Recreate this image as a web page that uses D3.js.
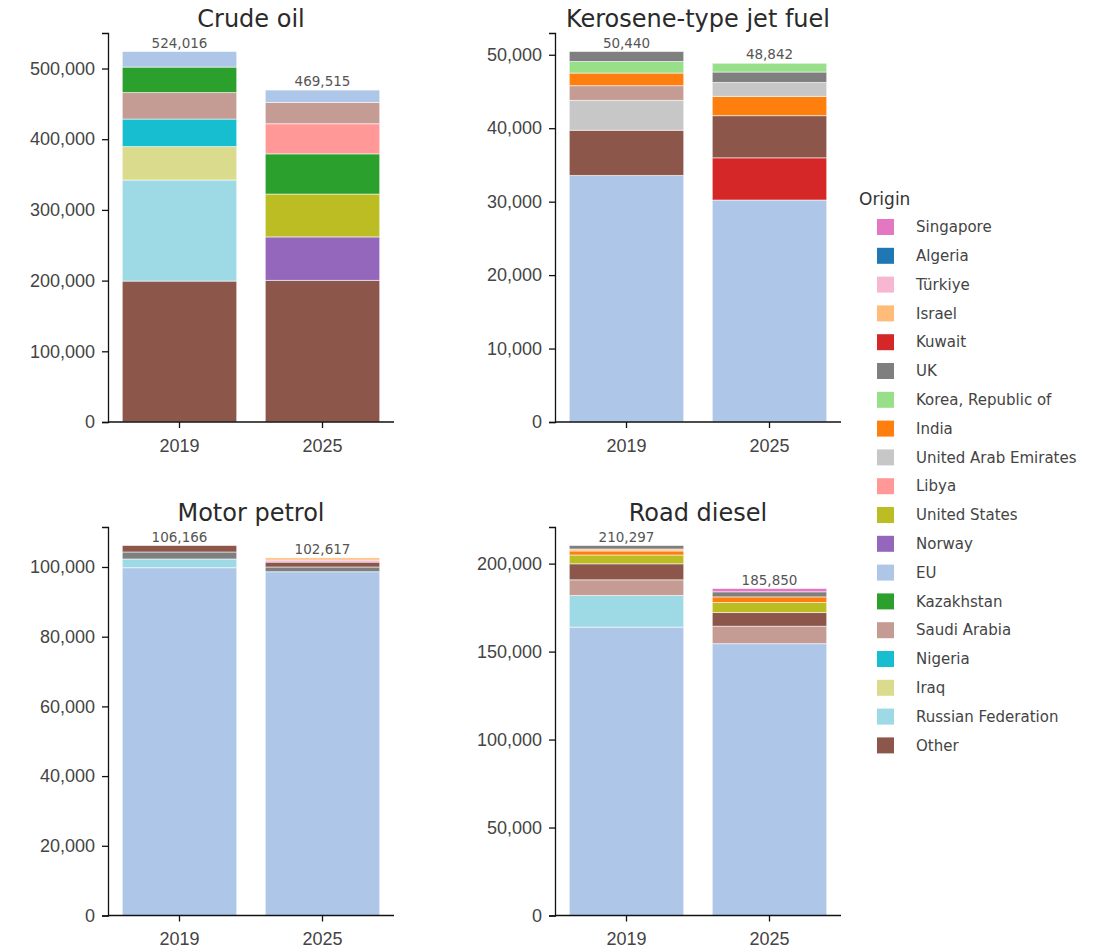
<!DOCTYPE html>
<html>
<head>
<meta charset="utf-8">
<script src="https://cdn.jsdelivr.net/npm/d3@7"></script>
<style>
  html, body { margin: 0; padding: 0; background: #fff; }
  svg { display: block; font-family: "DejaVu Sans", Verdana, sans-serif; }
</style>
</head>
<body>
<svg id="chart" width="1102" height="952"></svg>
<script>
// ---------- DATA ----------
const years = ["2019", "2025"];

// each bar: [origin, value], listed bottom to top
const crude2019 = [["Other",199300],["Russian Federation",143000],["Iraq",47300],["Nigeria",38900],["Saudi Arabia",37500],["Kazakhstan",36000],["EU",22016]];
const crude2025 = [["Other",200300],["Norway",61500],["United States",60600],["Kazakhstan",56900],["Libya",42600],["Saudi Arabia",30100],["EU",17515]];

const jet2019 = [["EU",33570],["Other",6150],["United Arab Emirates",4070],["Saudi Arabia",2000],["India",1720],["Korea, Republic of",1570],["UK",1360]];
const jet2025 = [["EU",30220],["Kuwait",5750],["Other",5740],["India",2620],["United Arab Emirates",1900],["UK",1420],["Korea, Republic of",1192]];

const petrol2019 = [["EU",99800],["Russian Federation",2500],["UK",2000],["Other",1866]];
const petrol2025 = [["EU",98650],["UK",1350],["Other",1400],["Türkiye",600],["Israel",617]];

const diesel2019 = [["EU",163900],["Russian Federation",18000],["Saudi Arabia",8900],["Other",9100],["United States",5000],["India",2300],["Israel",1100],["UK",1997]];
const diesel2025 = [["EU",154500],["Saudi Arabia",9900],["Other",7800],["United States",5700],["India",3200],["UK",2900],["Singapore",1850]];

const panelTitles = ["Crude oil", "Kerosene-type jet fuel", "Motor petrol", "Road diesel"];
const crudeTicks  = [0, 100000, 200000, 300000, 400000, 500000];
const jetTicks    = [0, 10000, 20000, 30000, 40000, 50000];
const petrolTicks = [0, 20000, 40000, 60000, 80000, 100000];
const dieselTicks = [0, 50000, 100000, 150000, 200000];

const legendOrigins = ["Singapore","Algeria","Türkiye","Israel","Kuwait","UK","Korea, Republic of","India","United Arab Emirates","Libya","United States","Norway","EU","Kazakhstan","Saudi Arabia","Nigeria","Iraq","Russian Federation","Other"];
const legendColors  = ["#e377c2","#1f77b4","#f7b6d2","#ffbb78","#d62728","#7f7f7f","#98df8a","#ff7f0e","#c7c7c7","#ff9896","#bcbd22","#9467bd","#aec7e8","#2ca02c","#c49c94","#17becf","#dbdb8d","#9edae5","#8c564b"];

// ---------- DRAW ----------
const svg = d3.select("#chart");
const color = d3.scaleOrdinal().domain(legendOrigins).range(legendColors);
const fmt = d3.format(",");

const panels = [
  { title: panelTitles[0], bars: [crude2019, crude2025],   ticks: crudeTicks,  x0: 108, x1: 394, top: 33,  bottom: 422 },
  { title: panelTitles[1], bars: [jet2019, jet2025],       ticks: jetTicks,    x0: 555, x1: 841, top: 33,  bottom: 422 },
  { title: panelTitles[2], bars: [petrol2019, petrol2025], ticks: petrolTicks, x0: 108, x1: 394, top: 527, bottom: 915.5 },
  { title: panelTitles[3], bars: [diesel2019, diesel2025], ticks: dieselTicks, x0: 555, x1: 841, top: 527, bottom: 915.5 }
];

panels.forEach(p => {
  const totals = p.bars.map(b => d3.sum(b, d => d[1]));
  const x = d3.scaleBand().domain(years).range([p.x0, p.x1]).paddingInner(0.2).paddingOuter(0.1);
  const y = d3.scaleLinear().domain([0, d3.max(totals) * 1.05]).range([p.bottom, p.top]);

  const g = svg.append("g");

  // bars
  p.bars.forEach((bar, i) => {
    let cum = 0;
    const segs = bar.map(([origin, v]) => { const s = { origin, y0: cum, y1: cum + v }; cum += v; return s; });
    g.append("g").selectAll("rect").data(segs).join("rect")
      .attr("x", x(years[i]))
      .attr("width", x.bandwidth())
      .attr("y", d => y(d.y1))
      .attr("height", d => y(d.y0) - y(d.y1))
      .attr("fill", d => color(d.origin))
      .attr("stroke", "#fff")
      .attr("stroke-opacity", 0.55)
      .attr("stroke-width", 1);
    g.append("text")
      .attr("x", x(years[i]) + x.bandwidth() / 2)
      .attr("y", y(totals[i]) - 4)
      .attr("text-anchor", "middle")
      .attr("font-size", 13.5)
      .attr("fill", "#555")
      .text(fmt(totals[i]));
  });

  // y axis
  const ya = g.append("g").attr("transform", `translate(${p.x0},0)`)
    .call(d3.axisLeft(y).tickValues(p.ticks).tickFormat(fmt).tickSizeOuter(0).tickSize(6).tickPadding(7));
  ya.selectAll("text").attr("font-size", 18).attr("fill", "#444").attr("font-family", null);
  ya.selectAll("line, path").attr("stroke", "#111").attr("stroke-width", 1.3);

  // x axis
  const xa = g.append("g").attr("transform", `translate(0,${p.bottom})`)
    .call(d3.axisBottom(x).tickSizeOuter(0).tickSize(6).tickPadding(11));
  xa.selectAll("text").attr("font-size", 18).attr("fill", "#444").attr("font-family", null);
  xa.selectAll("line, path").attr("stroke", "#111").attr("stroke-width", 1.3);
  xa.select("path.domain").attr("d", `M${p.x0},0H${p.x1}`);

  // title
  g.append("text")
    .attr("x", (p.x0 + p.x1) / 2)
    .attr("y", p.top - 6)
    .attr("text-anchor", "middle")
    .attr("font-size", 24)
    .attr("fill", "#2a2a2a")
    .text(p.title);
});

// legend
const lg = svg.append("g");
lg.append("text").attr("x", 859).attr("y", 205).attr("font-size", 17).attr("fill", "#333").text("Origin");
const items = lg.selectAll("g.item").data(legendOrigins).join("g")
  .attr("class", "item")
  .attr("transform", (d, i) => `translate(0,${227 + i * 28.8})`);
items.append("rect").attr("x", 877).attr("y", -8).attr("width", 17).attr("height", 16)
  .attr("fill", d => color(d));
items.append("text").attr("x", 916).attr("y", 0).attr("dy", "0.35em")
  .attr("font-size", 15).attr("fill", "#444").text(d => d);
</script>
</body>
</html>
